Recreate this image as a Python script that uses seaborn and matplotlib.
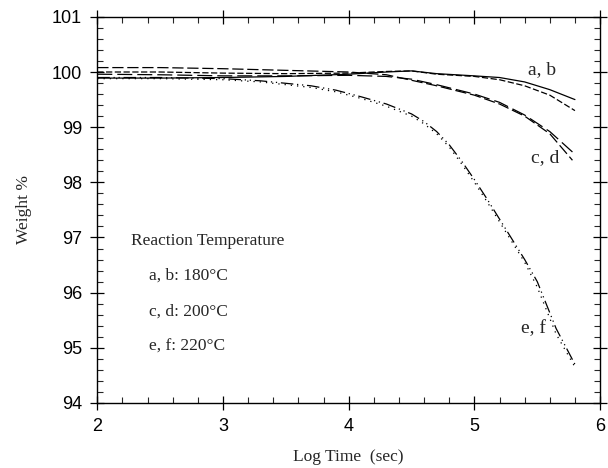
import numpy as np
import pandas as pd
import matplotlib
matplotlib.use("Agg")
import matplotlib.pyplot as plt
import seaborn as sns
from matplotlib.ticker import MultipleLocator

# --- data (log time, weight %) ---
x_ab = [2.0, 2.5, 3.0, 3.5, 4.0, 4.3, 4.5, 4.7, 5.0, 5.2, 5.4, 5.6, 5.8]
y_a = [99.89, 99.89, 99.90, 99.92, 99.96, 100.0, 100.02, 99.97, 99.93, 99.90, 99.82, 99.68, 99.50]
y_b = [100.0, 100.0, 99.98, 99.97, 99.98, 100.01, 100.02, 99.96, 99.92, 99.86, 99.75, 99.58, 99.30]

x_cd = [2.0, 2.5, 3.0, 3.5, 4.0, 4.3, 4.5, 4.7, 5.0, 5.2, 5.4, 5.6, 5.78]
y_c = [100.08, 100.08, 100.06, 100.03, 100.0, 99.95, 99.85, 99.75, 99.58, 99.42, 99.20, 98.88, 98.40]
y_d = [99.96, 99.95, 99.93, 99.93, 99.94, 99.92, 99.87, 99.77, 99.60, 99.45, 99.22, 98.92, 98.55]

x_ef = [2.0, 2.5, 3.0, 3.3, 3.7, 3.9, 4.1, 4.3, 4.5, 4.6, 4.7, 4.8, 4.9, 5.0,
        5.1, 5.25, 5.4, 5.5, 5.65, 5.8]
y_e = [99.90, 99.90, 99.88, 99.84, 99.75, 99.67, 99.55, 99.42, 99.24, 99.10, 98.92, 98.68, 98.38, 98.05,
       97.70, 97.15, 96.60, 96.20, 95.35, 94.70]
y_f = [99.88, 99.88, 99.86, 99.82, 99.72, 99.64, 99.52, 99.38, 99.20, 99.06, 98.88, 98.64, 98.33, 98.00,
       97.65, 97.10, 96.55, 96.10, 95.25, 94.65]

curve_names = ["a", "b", "c", "d", "e", "f"]
legend_lines = ["a, b: 180°C", "c, d: 200°C", "e, f: 220°C"]

sns.set_style("ticks")
plt.rcParams["font.family"] = ["Liberation Sans", "DejaVu Sans"]

frames = []
for name, xs, ys in [("a", x_ab, y_a), ("b", x_ab, y_b), ("c", x_cd, y_c),
                     ("d", x_cd, y_d), ("e", x_ef, y_e), ("f", x_ef, y_f)]:
    frames.append(pd.DataFrame({"logt": xs, "weight": ys, "curve": name}))
df = pd.concat(frames, ignore_index=True)

styles = {
    "a": "-",
    "b": (0, (5, 2)),
    "c": (0, (9, 3)),
    "d": (0, (12, 4)),
    "e": (0, (10, 3, 1, 3, 1, 3)),
    "f": (0, (1, 4)),
}

fig = plt.figure(figsize=(6.08, 4.68), dpi=100)
ax = fig.add_axes([0.160, 0.139, 0.827, 0.825])

for name in curve_names:
    sub = df[df["curve"] == name]
    sns.lineplot(data=sub, x="logt", y="weight", ax=ax, color="black",
                 linewidth=0.9, linestyle=styles[name], sort=False)

ax.set_xlim(2, 6)
ax.set_ylim(94, 101)
ax.xaxis.set_major_locator(MultipleLocator(1))
ax.xaxis.set_minor_locator(MultipleLocator(0.2))
ax.yaxis.set_major_locator(MultipleLocator(1))
ax.yaxis.set_minor_locator(MultipleLocator(0.2))
ax.tick_params(which="major", direction="inout", length=10, width=0.9,
               top=True, right=True, labelsize=13, colors="black", pad=6)
ax.tick_params(which="minor", direction="in", length=4, width=0.8,
               top=True, right=True)
for sp in ax.spines.values():
    sp.set_linewidth(1.0)
    sp.set_color("black")

serif = ["Liberation Serif", "DejaVu Serif"]
ax.set_xlabel("Log Time  (sec)", family=serif, fontsize=12.5, labelpad=10)
ax.set_ylabel("Weight %", family=serif, fontsize=12.5, labelpad=14)

ax.text(5.43, 100.04, "a, b", family=serif, fontsize=14, va="center")
ax.text(5.45, 98.44, "c, d", family=serif, fontsize=14, va="center")
ax.text(5.37, 95.35, "e, f", family=serif, fontsize=14, va="center")

ax.text(2.27, 96.93, "Reaction Temperature", family=serif, fontsize=12.5, va="center")
for i, line in enumerate(legend_lines):
    ax.text(2.41, 96.3 - i * 0.64, line, family=serif, fontsize=12.5, va="center")

fig.savefig("out.png", dpi=100, facecolor="white")
